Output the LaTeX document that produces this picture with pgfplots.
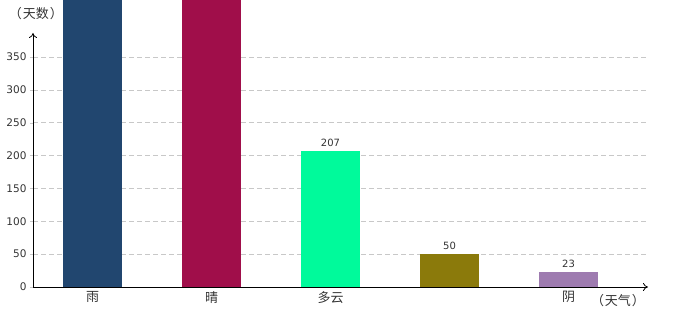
\documentclass[border=0pt]{standalone}
\usepackage{fontspec}
\setmainfont{DejaVu Sans}
\newfontfamily\cjk{Noto Sans CJK SC}
\usepackage{pgfplots}
\pgfplotsset{compat=1.18}
\usetikzlibrary{arrows.meta}

\definecolor{cRain}{HTML}{21466F}
\definecolor{cSun}{HTML}{A00E4A}
\definecolor{cCloud}{HTML}{00FA9B}
\definecolor{cOlive}{HTML}{8B7A0B}
\definecolor{cOver}{HTML}{9E7BB0}
\definecolor{gridgray}{HTML}{C8C8C8}
\definecolor{txt}{HTML}{333333}

\begin{document}
\begin{tikzpicture}[x=1pt,y=1pt]
\useasboundingbox (0,0) rectangle (680,320);
\begin{axis}[
  at={(33pt,33pt)}, anchor=south west,
  scale only axis, width=615pt, height=287pt,
  xmin=-0.5, xmax=4.668, ymin=0, ymax=436.7,
  axis x line=bottom, axis y line=left,
  x axis line style={-{To[length=5pt,width=8pt]}, black, line width=0.8pt},
  y axis line style={-{To[length=5pt,width=8pt]}, black, line width=0.8pt, shorten >=33pt},
  xtick={0,1,2,3,4}, xticklabels={雨,晴,多云,{},阴},
  xtick style={draw=none},
  xticklabel style={font=\cjk\fontsize{13}{13}\selectfont, text=txt, yshift=2pt},
  ytick={0,50,...,350},
  tick align=outside, major tick length=3pt,
  ytick style={gridgray},
  yticklabel style={font=\fontsize{10.5}{10.5}\selectfont, text=txt},
  /pgf/number format/assume math mode=true,
  ymajorgrids, grid style={gridgray, dash pattern=on 5pt off 3pt, line width=0.6pt},
  ybar, bar width=59pt, bar shift=0pt,
  nodes near coords style={font=\fontsize{10}{10}\selectfont, text=txt},
  every node near coord/.append style={yshift=1pt},
]
\addplot[fill=cRain, draw=none] coordinates {(0,450)};
\addplot[fill=cSun, draw=none] coordinates {(1,450)};
\addplot[fill=cCloud, draw=none, nodes near coords] coordinates {(2,207)};
\addplot[fill=cOlive, draw=none, nodes near coords] coordinates {(3,50)};
\addplot[fill=cOver, draw=none, nodes near coords] coordinates {(4,23)};
\end{axis}
\node[font=\cjk\fontsize{13}{13}\selectfont, text=txt] at (36,306) {（\kern1pt 天数\kern1pt ）};
\node[font=\cjk\fontsize{13}{13}\selectfont, text=txt] at (618,19) {（\kern1pt 天气\kern1pt ）};
\end{tikzpicture}
\end{document}
